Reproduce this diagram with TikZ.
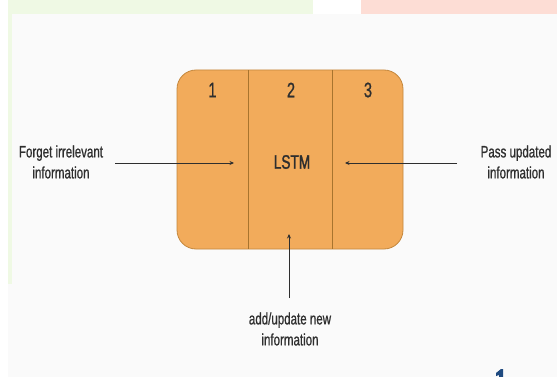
\documentclass[tikz,border=0pt]{standalone}
\usepackage{fontspec}
\setmainfont[FakeStretch=0.7,FakeBold=0.8]{Liberation Sans}
\newfontfamily\lstmfont[FakeStretch=0.7,FakeBold=1.6]{Liberation Sans}
\usetikzlibrary{arrows.meta}
\definecolor{boxfill}{HTML}{F2AB5B}
\definecolor{boxline}{HTML}{C4873C}
\definecolor{divline}{HTML}{A8742E}
\definecolor{txt}{HTML}{2E2E2E}
\definecolor{bgmain}{HTML}{FAFAFA}
\definecolor{stripgreen}{HTML}{EFF9E4}
\definecolor{strippink}{HTML}{FDDDD5}
\definecolor{glyphblue}{HTML}{1F4A80}
\begin{document}
\begin{tikzpicture}[x=1pt,y=-1pt,
  lbl/.style={text=txt, font=\fontsize{16.5}{21}\selectfont, align=center, inner sep=0pt},
  num/.style={text=txt, font=\fontsize{21}{24}\selectfont, inner sep=0pt},
  conn/.style={draw=txt, line width=0.7pt, -{Stealth[length=4.5pt,width=4pt]}}]
\useasboundingbox (0,0) rectangle (557,377);
% backgrounds
\fill[white] (0,0) rectangle (557,377);
\fill[bgmain] (8,14) rectangle (557,377);
\fill[stripgreen] (8,0) rectangle (313,14);
\fill[strippink] (361,0) rectangle (557,14);
\fill[stripgreen] (8,14) rectangle (12,284);
% LSTM box
\node[draw=boxline, fill=boxfill, line width=0.8pt, rounded corners=19pt,
  minimum width=226pt, minimum height=179pt, inner sep=0pt] (box) at (290,159.5) {};
\draw[divline, line width=0.8pt] (248,70.4) -- (248,248.6);
\draw[divline, line width=0.8pt] (332,70.4) -- (332,248.6);
\node[num] (n1) at (212.5,90) {1};
\node[num] (n2) at (291,90) {2};
\node[num] (n3) at (368,90) {3};
\node[text=txt, font=\lstmfont\fontsize{19.5}{22}\selectfont, inner sep=0pt] (lstm) at (292,162) {LSTM};
% labels
\node[lbl] (forget) at (61,162) {Forget irrelevant\\information};
\node[lbl] (pass) at (516,162) {Pass updated\\information};
\node[lbl] (add) at (290,329) {add/update new\\information};
% arrow ends
\coordinate (fs) at (115,163);
\coordinate (fe) at (234,163);
\coordinate (ps) at (457,163);
\coordinate (pe) at (345,163);
\coordinate (as) at (289,298);
\coordinate (ae) at (289,234);
\draw[conn] (fs) -- (fe);
\draw[conn] (ps) -- (pe);
\draw[conn] (as) -- (ae);
% clipped glyph at bottom right
\fill[glyphblue] (496,373) -- (501,369) -- (503,369) -- (503,377) -- (499,377) -- (499,375) -- (496,376) -- cycle;
\end{tikzpicture}
\end{document}
